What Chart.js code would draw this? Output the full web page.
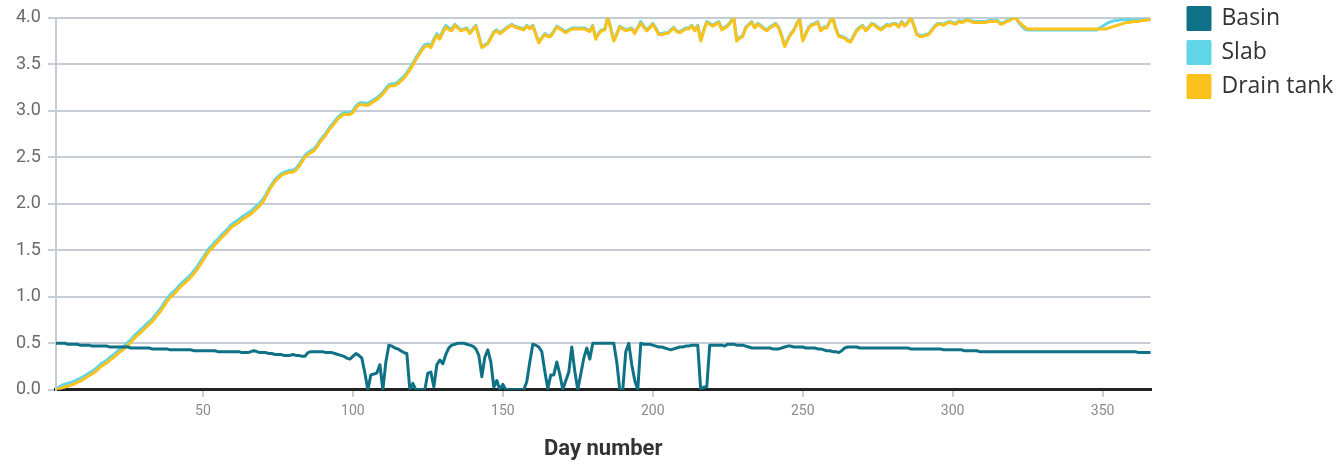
<!DOCTYPE html>
<html>
<head>
<meta charset="utf-8">
<script src="https://cdn.jsdelivr.net/npm/chart.js@4/dist/chart.umd.min.js"></script>
<style>
  html, body { margin: 0; padding: 0; background: #ffffff; }
  #wrap { width: 1338px; height: 464px; position: relative; }
</style>
</head>
<body>
<div id="wrap"><canvas id="c" width="1338" height="464"></canvas></div>
<script>
const seriesNames = ["Basin", "Slab", "Drain tank"];
const xTickValues = [50, 100, 150, 200, 250, 300, 350];
const firstDay = 1;
const lastDay = 366;

const basin = [
0.50,0.50,0.50,0.50,0.49,0.49,0.49,0.49,0.48,0.48,
0.48,0.48,0.47,0.47,0.47,0.47,0.47,0.47,0.46,0.46,
0.46,0.46,0.46,0.46,0.46,0.45,0.45,0.45,0.45,0.45,
0.45,0.45,0.44,0.44,0.44,0.44,0.44,0.44,0.43,0.43,
0.43,0.43,0.43,0.43,0.43,0.43,0.42,0.42,0.42,0.42,
0.42,0.42,0.42,0.42,0.41,0.41,0.41,0.41,0.41,0.41,
0.41,0.41,0.40,0.40,0.40,0.41,0.42,0.41,0.40,0.40,
0.40,0.39,0.39,0.38,0.38,0.38,0.37,0.37,0.37,0.38,
0.37,0.37,0.36,0.36,0.40,0.41,0.41,0.41,0.41,0.41,
0.40,0.40,0.40,0.39,0.38,0.37,0.36,0.34,0.33,0.36,
0.39,0.37,0.34,0.18,0.00,0.16,0.17,0.18,0.27,0.00,
0.30,0.48,0.47,0.45,0.44,0.42,0.40,0.39,0.00,0.07,
0.00,0.00,0.00,0.00,0.18,0.19,0.03,0.27,0.32,0.28,
0.38,0.45,0.48,0.49,0.50,0.50,0.50,0.49,0.48,0.47,
0.44,0.37,0.14,0.35,0.43,0.30,0.03,0.10,0.00,0.06,
0.00,0.00,0.00,0.00,0.00,0.00,0.00,0.09,0.30,0.49,
0.48,0.46,0.41,0.20,0.01,0.16,0.16,0.30,0.17,0.00,
0.10,0.19,0.46,0.20,0.00,0.17,0.34,0.45,0.33,0.50,
0.50,0.50,0.50,0.50,0.50,0.50,0.50,0.30,0.00,0.00,
0.41,0.50,0.27,0.10,0.00,0.50,0.49,0.49,0.49,0.48,
0.47,0.46,0.46,0.45,0.44,0.43,0.44,0.45,0.46,0.46,
0.47,0.47,0.48,0.48,0.48,0.00,0.03,0.03,0.48,0.48,
0.48,0.48,0.48,0.47,0.49,0.49,0.49,0.48,0.48,0.48,
0.47,0.46,0.45,0.45,0.45,0.45,0.45,0.45,0.45,0.44,
0.44,0.44,0.45,0.46,0.47,0.47,0.46,0.46,0.46,0.46,
0.45,0.45,0.45,0.45,0.44,0.44,0.43,0.42,0.42,0.41,
0.41,0.40,0.42,0.45,0.46,0.46,0.46,0.46,0.45,0.45,
0.45,0.45,0.45,0.45,0.45,0.45,0.45,0.45,0.45,0.45,
0.45,0.45,0.45,0.45,0.45,0.44,0.44,0.44,0.44,0.44,
0.44,0.44,0.44,0.44,0.44,0.44,0.43,0.43,0.43,0.43,
0.43,0.43,0.43,0.42,0.42,0.42,0.42,0.42,0.41,0.41,
0.41,0.41,0.41,0.41,0.41,0.41,0.41,0.41,0.41,0.41,
0.41,0.41,0.41,0.41,0.41,0.41,0.41,0.41,0.41,0.41,
0.41,0.41,0.41,0.41,0.41,0.41,0.41,0.41,0.41,0.41,
0.41,0.41,0.41,0.41,0.41,0.41,0.41,0.41,0.41,0.41,
0.41,0.41,0.41,0.41,0.41,0.41,0.41,0.41,0.41,0.41,
0.41,0.40,0.40,0.40,0.40,0.40
];

const slab = [
0.00,0.03,0.05,0.06,0.07,0.08,0.09,0.11,0.12,0.14,
0.16,0.18,0.20,0.22,0.25,0.28,0.30,0.32,0.35,0.37,
0.40,0.43,0.45,0.48,0.51,0.54,0.58,0.61,0.64,0.67,
0.70,0.73,0.76,0.80,0.84,0.88,0.93,0.98,1.02,1.05,
1.08,1.12,1.15,1.18,1.21,1.24,1.28,1.32,1.37,1.42,
1.47,1.52,1.55,1.59,1.62,1.66,1.69,1.72,1.76,1.79,
1.81,1.83,1.86,1.88,1.90,1.92,1.95,1.98,2.01,2.05,
2.10,2.16,2.21,2.26,2.29,2.32,2.34,2.35,2.36,2.36,
2.38,2.42,2.47,2.52,2.55,2.57,2.59,2.63,2.68,2.72,
2.76,2.81,2.85,2.89,2.93,2.96,2.98,2.98,2.98,3.00,
3.05,3.08,3.09,3.08,3.08,3.10,3.12,3.14,3.17,3.20,
3.24,3.28,3.29,3.29,3.31,3.34,3.37,3.41,3.46,3.51,
3.57,3.62,3.67,3.71,3.72,3.70,3.77,3.83,3.79,3.86,
3.92,3.89,3.88,3.93,3.90,3.87,3.88,3.89,3.84,3.88,
3.92,3.81,3.69,3.71,3.73,3.79,3.85,3.87,3.84,3.86,
3.89,3.91,3.93,3.91,3.90,3.89,3.88,3.92,3.89,3.92,
3.83,3.74,3.79,3.83,3.81,3.81,3.86,3.91,3.89,3.87,
3.85,3.87,3.89,3.89,3.89,3.89,3.89,3.88,3.86,3.92,
3.78,3.84,3.87,3.88,4.01,3.89,3.76,3.83,3.91,3.89,
3.87,3.88,3.89,3.84,3.90,3.96,3.91,3.87,3.90,3.94,
3.89,3.83,3.83,3.84,3.84,3.87,3.90,3.86,3.85,3.87,
3.89,3.89,3.92,3.87,3.92,3.76,3.87,3.96,3.94,3.92,
3.94,3.96,3.88,3.90,3.92,3.96,4.01,3.76,3.79,3.81,
3.90,3.93,3.96,3.90,3.94,3.92,3.89,3.87,3.90,3.92,
3.94,3.90,3.81,3.70,3.77,3.83,3.87,3.94,3.99,3.76,
3.83,3.90,3.93,3.94,3.96,3.87,3.90,3.90,3.96,4.01,
3.89,3.81,3.80,3.79,3.76,3.75,3.81,3.87,3.90,3.92,
3.87,3.90,3.94,3.93,3.90,3.88,3.90,3.93,3.92,3.94,
3.94,3.91,3.96,3.92,3.95,4.01,3.93,3.83,3.81,3.81,
3.82,3.83,3.87,3.91,3.94,3.94,3.93,3.95,3.96,3.95,
3.94,3.97,3.96,3.97,3.99,3.97,3.96,3.96,3.96,3.96,
3.96,3.97,3.97,3.97,3.97,3.94,3.95,3.97,3.98,4.00,
4.00,3.95,3.91,3.88,3.87,3.87,3.87,3.87,3.87,3.87,
3.87,3.87,3.87,3.87,3.87,3.87,3.87,3.87,3.87,3.87,
3.87,3.87,3.87,3.87,3.87,3.87,3.87,3.87,3.89,3.91,
3.93,3.95,3.96,3.97,3.97,3.98,3.98,3.98,3.98,3.98,
3.98,3.98,3.98,3.98,3.98,3.98
];

const drainTank = [
0.00,0.01,0.02,0.03,0.04,0.05,0.06,0.08,0.09,0.11,
0.13,0.15,0.17,0.19,0.22,0.25,0.27,0.29,0.32,0.34,
0.37,0.40,0.42,0.45,0.48,0.51,0.55,0.58,0.61,0.64,
0.67,0.70,0.73,0.77,0.81,0.85,0.90,0.95,0.99,1.02,
1.05,1.09,1.12,1.15,1.18,1.21,1.25,1.29,1.34,1.39,
1.44,1.49,1.52,1.56,1.59,1.63,1.66,1.69,1.73,1.76,
1.78,1.80,1.83,1.85,1.87,1.89,1.92,1.95,1.98,2.02,
2.08,2.14,2.19,2.24,2.27,2.30,2.32,2.33,2.34,2.34,
2.36,2.40,2.45,2.50,2.53,2.55,2.57,2.61,2.66,2.70,
2.74,2.79,2.83,2.87,2.91,2.94,2.96,2.96,2.96,2.98,
3.03,3.06,3.07,3.06,3.06,3.08,3.10,3.12,3.15,3.18,
3.22,3.26,3.27,3.27,3.29,3.32,3.35,3.39,3.44,3.49,
3.55,3.60,3.65,3.69,3.70,3.68,3.75,3.81,3.77,3.84,
3.90,3.87,3.86,3.92,3.89,3.86,3.87,3.88,3.83,3.87,
3.91,3.80,3.68,3.70,3.72,3.78,3.84,3.86,3.83,3.85,
3.88,3.90,3.92,3.90,3.89,3.88,3.87,3.91,3.88,3.91,
3.82,3.73,3.78,3.82,3.80,3.80,3.85,3.90,3.88,3.86,
3.84,3.86,3.88,3.88,3.88,3.88,3.88,3.87,3.85,3.91,
3.77,3.83,3.86,3.87,4.00,3.88,3.75,3.82,3.90,3.88,
3.86,3.87,3.88,3.83,3.89,3.94,3.90,3.86,3.89,3.93,
3.88,3.82,3.82,3.83,3.83,3.86,3.89,3.85,3.84,3.86,
3.88,3.88,3.91,3.86,3.91,3.75,3.86,3.95,3.93,3.91,
3.93,3.95,3.87,3.89,3.91,3.95,4.00,3.75,3.78,3.80,
3.89,3.92,3.95,3.89,3.93,3.91,3.88,3.86,3.89,3.91,
3.93,3.89,3.80,3.69,3.76,3.82,3.86,3.93,3.98,3.75,
3.82,3.89,3.92,3.93,3.95,3.86,3.89,3.89,3.95,4.00,
3.88,3.80,3.79,3.78,3.75,3.74,3.80,3.86,3.89,3.91,
3.86,3.89,3.93,3.92,3.89,3.87,3.89,3.92,3.91,3.93,
3.93,3.90,3.95,3.91,3.94,4.00,3.92,3.82,3.80,3.80,
3.81,3.82,3.86,3.90,3.93,3.93,3.92,3.94,3.95,3.94,
3.93,3.96,3.95,3.96,3.98,3.96,3.95,3.95,3.95,3.95,
3.95,3.96,3.96,3.96,3.96,3.93,3.94,3.96,3.97,3.99,
4.00,3.96,3.93,3.90,3.88,3.88,3.88,3.88,3.88,3.88,
3.88,3.88,3.88,3.88,3.88,3.88,3.88,3.88,3.88,3.88,
3.88,3.88,3.88,3.88,3.88,3.88,3.88,3.88,3.88,3.88,
3.88,3.89,3.90,3.91,3.92,3.93,3.94,3.95,3.95,3.96,
3.96,3.96,3.97,3.97,3.98,3.98
];

const colors = { basin: "#0f7186", slab: "#61d6e6", drain: "#fcc21c" };

function toPoints(values) {
  return values.map((v, i) => ({ x: firstDay + i, y: v }));
}

// Place the legend block where the reference has it (top-right corner).
const legendPlacement = {
  id: "legendPlacement",
  afterLayout(chart) {
    const lg = chart.legend;
    if (!lg) return;
    const w = lg.width, h = lg.height;
    lg.left = 1177; lg.right = lg.left + w;
    lg.top = -4; lg.bottom = lg.top + h;
  }
};

const lineStyle = { borderWidth: 3, pointRadius: 0, tension: 0, borderJoinStyle: "round", borderCapStyle: "round" };

const ctx = document.getElementById("c").getContext("2d");
new Chart(ctx, {
  type: "line",
  data: {
    datasets: [
      Object.assign({ label: seriesNames[0], data: toPoints(basin), borderColor: colors.basin, backgroundColor: colors.basin, order: 0 }, lineStyle),
      Object.assign({ label: seriesNames[1], data: toPoints(slab), borderColor: colors.slab, backgroundColor: colors.slab, order: 2 }, lineStyle),
      Object.assign({ label: seriesNames[2], data: toPoints(drainTank), borderColor: colors.drain, backgroundColor: colors.drain, order: 1 }, lineStyle)
    ]
  },
  plugins: [legendPlacement],
  options: {
    responsive: false,
    devicePixelRatio: 1,
    animation: false,
    layout: { padding: { top: 12, right: 21, bottom: 1, left: 9 } },
    plugins: {
      tooltip: { enabled: false },
      legend: {
        position: "right",
        align: "start",
        labels: {
          boxWidth: 22,
          boxHeight: 22,
          padding: 11,
          color: "#333333",
          font: { family: "'Open Sans', 'Noto Sans', sans-serif", size: 23 },
          sort: (a, b) => a.datasetIndex - b.datasetIndex
        }
      }
    },
    scales: {
      x: {
        type: "linear",
        min: firstDay,
        max: lastDay,
        afterBuildTicks: (scale) => { scale.ticks = xTickValues.map(v => ({ value: v })); },
        ticks: { color: "#8a8a8a", font: { family: "Roboto, sans-serif", size: 14 }, padding: 6, maxRotation: 0 },
        grid: { drawOnChartArea: false, drawTicks: true, tickLength: 7, color: "#c6ccd3", lineWidth: 2 },
        border: { display: true, color: "#222222", width: 3 },
        title: { display: true, text: "Day number", color: "#333333", font: { family: "Roboto, sans-serif", size: 22, weight: "bold" }, padding: { top: 11, bottom: 0 } }
      },
      y: {
        min: 0,
        max: 4,
        ticks: { stepSize: 0.5, color: "#6b6b6b", font: { family: "Roboto, sans-serif", size: 18 }, padding: 7, callback: (v) => Number(v).toFixed(1) },
        grid: { color: "#c6ccd3", lineWidth: 2, tickLength: 8 },
        border: { display: true, color: "#c6ccd3", width: 2 }
      }
    }
  }
});
</script>
</body>
</html>
